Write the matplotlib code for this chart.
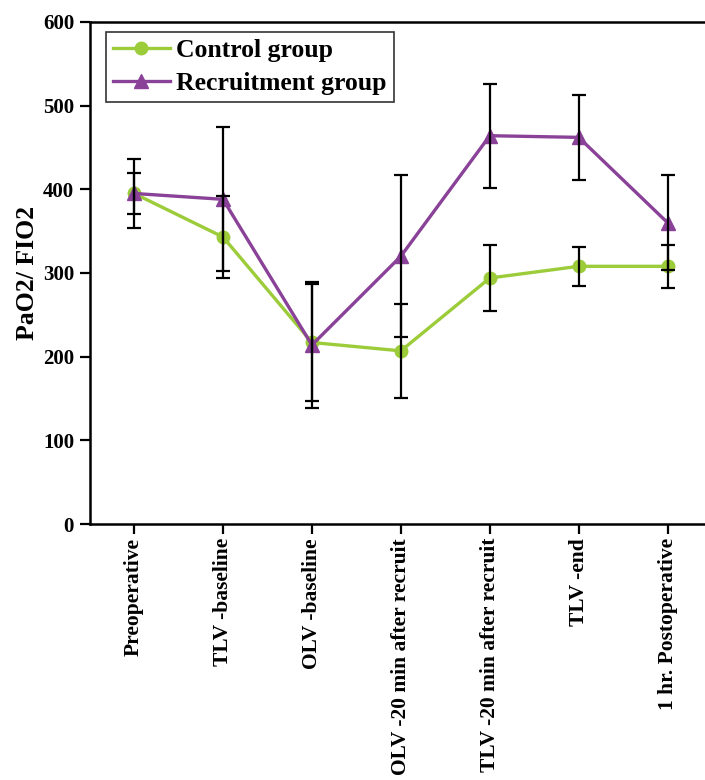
import numpy as np
import matplotlib
matplotlib.use("Agg")
import matplotlib.pyplot as plt

# time points
categories = ["Preoperative", "TLV -baseline", "OLV -baseline",
              "OLV -20 min after recruit", "TLV -20 min after recruit",
              "TLV -end", "1 hr. Postoperative"]

# PaO2/FIO2, mean and SD
control_mean = [395, 343, 217, 207, 294, 308, 308]
control_sd = [25, 49, 70, 56, 39, 23, 26]
recruit_mean = [395, 388, 214, 320, 464, 462, 360]
recruit_sd = [41, 86, 75, 97, 62, 51, 57]

green = "#9ccc3a"
purple = "#8a4198"

plt.rcParams["font.family"] = ["Liberation Serif", "DejaVu Serif"]
plt.rcParams["font.weight"] = "bold"

fig = plt.figure(figsize=(7.05, 7.8), dpi=100)
ax = fig.add_axes([0.1277, 0.328, 0.8723, 0.644])

x = np.arange(len(categories))

ax.plot(x, control_mean, color=green, lw=2.4, marker="o", ms=9,
        label="Control group", zorder=3)
ax.plot(x, recruit_mean, color=purple, lw=2.4, marker="^", ms=10,
        label="Recruitment group", zorder=3)

ax.errorbar(x, control_mean, yerr=control_sd, fmt="none", ecolor="black",
            elinewidth=1.6, capsize=5, capthick=1.6, zorder=4)
ax.errorbar(x, recruit_mean, yerr=recruit_sd, fmt="none", ecolor="black",
            elinewidth=1.6, capsize=5, capthick=1.6, zorder=4)

ax.set_ylim(0, 600)
ax.set_xlim(-0.495, 6.42)
ax.set_yticks(range(0, 601, 100))
ax.set_xticks(x)
ax.set_xticklabels(categories, rotation=90, fontsize=15.5, fontweight="bold")
ax.tick_params(axis="y", labelsize=15, width=1.6, length=7.5, pad=4)
ax.tick_params(axis="x", width=1.6, length=7, pad=3)
for lbl in ax.get_yticklabels():
    lbl.set_fontweight("bold")
for sp in ax.spines.values():
    sp.set_linewidth(1.8)
ax.spines["right"].set_visible(False)

ax.set_ylabel("PaO2/ FIO2", fontsize=18.5, fontweight="bold", labelpad=3)

leg = ax.legend(loc="upper left", fontsize=18.5, frameon=True, fancybox=False,
                edgecolor="black", handlelength=2.2, borderpad=0.28,
                labelspacing=0.38, handletextpad=0.25,
                bbox_to_anchor=(0.026, 0.98), borderaxespad=0)
leg.get_frame().set_linewidth(1.2)
for t in leg.get_texts():
    t.set_fontweight("bold")

fig.savefig("out.png", dpi=100)
